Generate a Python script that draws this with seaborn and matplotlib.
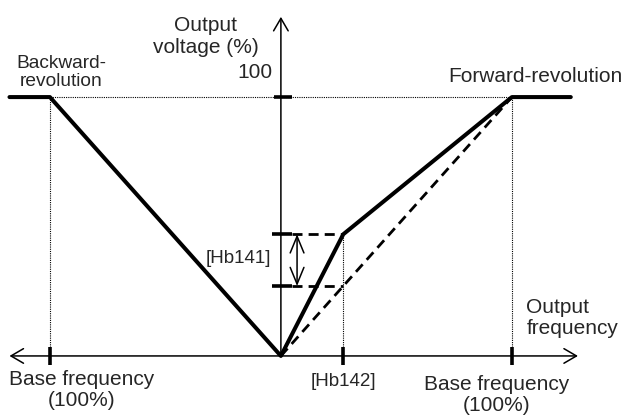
import matplotlib
matplotlib.use("Agg")
import matplotlib.pyplot as plt
import seaborn as sns
import pandas as pd

sns.set_theme(style="white")
plt.rcParams["font.family"] = ["Liberation Sans", "DejaVu Sans"]

# V/f characteristic (frequency and voltage in % of base values)
curve_freq = [-117.5, -100, 0, 27, 100, 125.5]
curve_volt = [100, 100, 0, 47, 100, 100]

# plain linear V/f reference
linear_freq = [0, 100]
linear_volt = [0, 100]

base_freq = 100          # base frequency (100%)
rated_volt = 100         # output voltage 100%
hb142_freq = 27          # [Hb142] boost frequency
hb141_volt = 47          # voltage reached at [Hb142]
hb141_low = 27           # linear voltage at [Hb142]

FS = 15
fig = plt.figure(figsize=(6.23, 4.16), dpi=100)
ax = fig.add_axes([0, 0, 1, 1])
ax.set_xlim(-121.6, 148.1)
ax.set_ylim(-23.2, 137.5)
ax.axis("off")

dot = dict(color="black", lw=0.8, linestyle=(0, (1, 1)))

# dotted guides at 100% voltage and base frequency
ax.plot([-base_freq, base_freq], [rated_volt, rated_volt], **dot)
ax.plot([-base_freq, -base_freq], [0, rated_volt], **dot)
ax.plot([base_freq, base_freq], [0, rated_volt], **dot)
ax.plot([hb142_freq, hb142_freq], [0, hb141_volt], **dot)

# axes with open arrowheads
arrow_kw = dict(color="black", lw=1.1, shrinkA=0, shrinkB=0)
ax.annotate("", xy=(128.6, 0), xytext=(-117.5, 0),
            arrowprops=dict(arrowstyle="<->,head_length=0.6,head_width=0.35",
                            mutation_scale=15, **arrow_kw))
ax.annotate("", xy=(0, 131), xytext=(0, 0),
            arrowprops=dict(arrowstyle="->,head_length=0.6,head_width=0.35",
                            mutation_scale=15, **arrow_kw))

# linear reference (dashed)
df_lin = pd.DataFrame({"f": linear_freq, "v": linear_volt})
sns.lineplot(data=df_lin, x="f", y="v", ax=ax, color="black", lw=2.0,
             linestyle=(0, (3.6, 2.2)), estimator=None, sort=False)

# [Hb141] levels (dashed)
for lvl in (hb141_volt, hb141_low):
    ax.plot([4.8, hb142_freq], [lvl, lvl], color="black", lw=2.0,
            linestyle=(0, (3.6, 2.2)))

# characteristic with boost
df_curve = pd.DataFrame({"f": curve_freq, "v": curve_volt})
sns.lineplot(data=df_curve, x="f", y="v", ax=ax, color="black", lw=2.9,
             estimator=None, sort=False)

# tick marks
tick_kw = dict(color="black", lw=2.6, solid_capstyle="butt")
for fx in (-base_freq, hb142_freq, base_freq):
    ax.plot([fx, fx], [-3.5, 3.5], **tick_kw)
ax.plot([-3, 5], [rated_volt, rated_volt], **tick_kw)
for lvl in (hb141_volt, hb141_low):
    ax.plot([-3.9, 4.8], [lvl, lvl], **tick_kw)

# [Hb141] span arrow
ax.annotate("", xy=(7, hb141_volt), xytext=(7, hb141_low),
            arrowprops=dict(arrowstyle="<->,head_length=0.8,head_width=0.33",
                            mutation_scale=15, **arrow_kw))

# labels
ax.text(-32.5, 123.5, "Output\nvoltage (%)", fontsize=FS, ha="center",
        va="center", linespacing=1.2)
ax.text(-3.5, 109.6, "100", fontsize=FS, ha="right", va="center")
ax.text(-95.2, 109.5, "Backward-\nrevolution", fontsize=FS - 1.2, ha="center",
        va="center", linespacing=1.1)
ax.text(72.3, 105.8, "Forward-revolution", fontsize=FS, ha="left",
        va="baseline")
ax.text(-4.3, 37.5, "[Hb141]", fontsize=FS - 1.5, ha="right", va="center")
ax.text(106.3, 14.7, "Output\nfrequency", fontsize=FS, ha="left", va="center",
        multialignment="left", linespacing=1.1)
ax.text(hb142_freq, -9.7, "[Hb142]", fontsize=FS - 1.5, ha="center",
        va="center")
ax.text(-86.4, -13.1, "Base frequency\n(100%)", fontsize=FS, ha="center",
        va="center", linespacing=1.1)
ax.text(93.5, -15.0, "Base frequency\n(100%)", fontsize=FS, ha="center",
        va="center", linespacing=1.1)

fig.savefig("out.png", dpi=100, facecolor="white")
